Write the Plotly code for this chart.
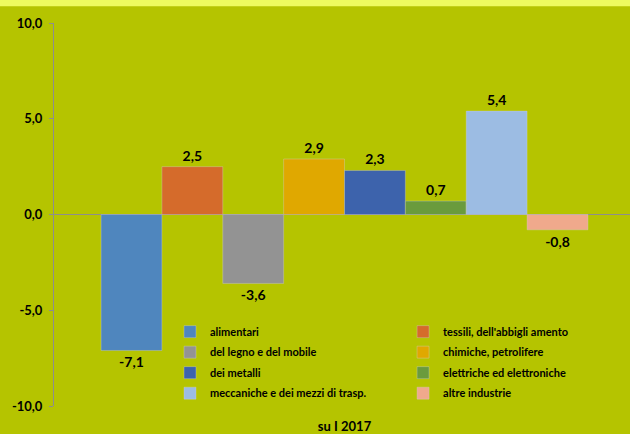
import plotly.graph_objects as go

category = ["su I 2017"]
series_names = [
    "alimentari",
    "tessili, dell'abbigli amento",
    "del legno e del mobile",
    "chimiche, petrolifere",
    "dei metalli",
    "elettriche ed elettroniche",
    "meccaniche e dei mezzi di trasp.",
    "altre industrie",
]
values = [-7.1, 2.5, -3.6, 2.9, 2.3, 0.7, 5.4, -0.8]
colors = ["#4f86be", "#d56b2b", "#939393", "#e0a800", "#3d63ac", "#6a9b3d", "#9cbce3", "#f0a98c"]
legend_ids = ["legend", "legend2", "legend", "legend2", "legend", "legend2", "legend", "legend2"]
y_ticks = [-10, -5, 0, 5, 10]
y_tick_text = ["-10,0", "-5,0", "0,0", "5,0", "10,0"]

BG = "#b5c400"
FONT = "Lato"
AXIS = "#8e8e8e"


def fmt(v):
    return f"{v:.1f}".replace(".", ",")


fig = go.Figure()
for i, (name, v, c, lg) in enumerate(zip(series_names, values, colors, legend_ids)):
    fig.add_trace(go.Bar(
        x=category, y=[v], name=name,
        marker=dict(color=c, line=dict(color="rgba(210,210,210,0.6)", width=0.6)),
        text=[fmt(v)], texttemplate="%{text}", textposition="outside",
        textfont=dict(family=FONT, size=14, color="black", weight="bold"),
        cliponaxis=False, legend=lg, legendgroup=f"g{i}",
    ))

fig.update_layout(
    width=630, height=434,
    paper_bgcolor=BG, plot_bgcolor=BG,
    margin=dict(l=54, r=0, t=23, b=25),
    barmode="group", bargap=0.162, bargroupgap=0,
    font=dict(family=FONT, color="black"),
    showlegend=True,
    legend=dict(x=0.2014, y=0.232, xanchor="left", yanchor="top", bgcolor="rgba(0,0,0,0)",
                font=dict(family=FONT, size=11, weight="bold"), tracegroupgap=1.5,
                traceorder="grouped"),
    legend2=dict(x=0.606, y=0.232, xanchor="left", yanchor="top", bgcolor="rgba(0,0,0,0)",
                 font=dict(family=FONT, size=11, weight="bold"), tracegroupgap=1.5,
                 traceorder="grouped"),
    shapes=[dict(type="rect", xref="paper", yref="paper", x0=-0.2, x1=1.1,
                 y0=1.044, y1=1.1, fillcolor="#eefb5f", line=dict(width=0), layer="below")],
)
fig.update_yaxes(
    range=[-10, 10], tickvals=y_ticks, ticktext=y_tick_text,
    showgrid=False, showline=True, linecolor=AXIS, linewidth=1,
    ticks="outside", ticklen=4, tickcolor=AXIS, ticklabelstandoff=4,
    zeroline=True, zerolinecolor=AXIS, zerolinewidth=1,
    tickfont=dict(family=FONT, size=13, weight="bold"),
)
fig.update_xaxes(
    range=[-0.5, 0.4914], showgrid=False, showline=False, ticks="",
    ticklabelstandoff=11,
    tickfont=dict(family=FONT, size=13, weight="bold"),
)
fig.write_html("out.html", config={"displayModeBar": False},
               post_script="document.body.style.margin='0';")
